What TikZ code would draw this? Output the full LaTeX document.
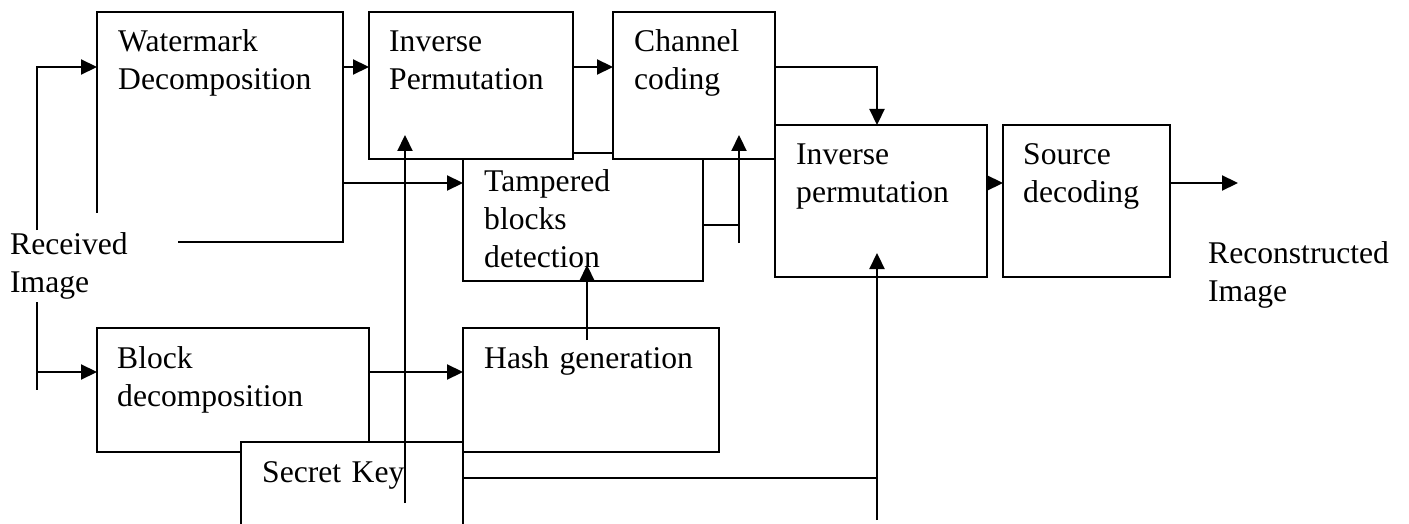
\documentclass[tikz,border=0pt]{standalone}
\usepackage{fontspec}
\setmainfont{Liberation Serif}
\usetikzlibrary{arrows.meta}
\tikzset{
  blkbox/.style={draw, fill=white, line width=2.2pt, inner sep=0pt, outer sep=0pt},
  cover/.style={fill=white, inner sep=0pt, outer sep=0pt},
  txt/.style={font=\fontsize{31.6}{38}\selectfont, align=left, text width=300pt, inner sep=0pt, anchor=base west},
  conn/.style={line width=2.2pt},
  arr/.style={conn, -{Triangle[length=16pt,width=15pt]}}
}
\newcommand{\blk}[6][blkbox]{\node[#1, minimum width={#5-#3}, minimum height={#6-#4}, anchor=north west] (#2) at (#3,#4) {};}
\begin{document}
\begin{tikzpicture}[x=1pt,y=-1pt]
\clip (0,0) rectangle (1409,524);
% boxes (drawing order reproduces the overlaps)
\blk{wm}{97}{12}{343}{242}
\blk[cover]{ricover}{0}{213}{178}{302}
\blk{tb}{463}{153}{703}{281}
\blk{ip}{369}{12}{573}{159}
\blk{cc}{613}{12}{775}{159}
\blk{ipb}{775}{125}{987}{277}
\blk{sd}{1003}{125}{1170}{277}
\blk{bd}{97}{328}{369}{452}
\blk{hg}{463}{328}{719}{452}
\blk{sk}{241}{442}{463}{560}
% texts
\node[txt] (wmt) at (118,52) {Watermark\\Decomposition};
\node[txt] (ipt) at (389,52) {Inverse\\Permutation};
\node[txt] (cct) at (634,52) {Channel\\coding};
\node[txt] (tbt) at (484,192) {Tampered\\blocks\\detection};
\node[txt] (ipbt) at (796,165) {Inverse\\permutation};
\node[txt] (sdt) at (1023,165) {Source\\decoding};
\node[txt] (rit) at (10,254) {Received\\Image};
\node[txt] (bdt) at (117,368) {Block\\decomposition};
\node[txt] (hgt) at (484,368) {Hash generation};
\node[txt] (skt) at (262,482) {Secret Key};
\node[txt] (rct) at (1208,263) {Reconstructed\\Image};
% free ends
\coordinate (rtop) at (37,230);
\coordinate (rbot1) at (37,302);
\coordinate (rbot2) at (37,390);
\coordinate (skup0) at (405,503);
\coordinate (skup1) at (405,135);
\coordinate (tbj) at (739,225);
\coordinate (tbup0) at (739,243);
\coordinate (tbup1) at (739,135);
\coordinate (hgup0) at (587,340);
\coordinate (hgup1) at (587,265);
\coordinate (skr) at (877,478);
\coordinate (ipbup0) at (877,520);
\coordinate (ipbup1) at (877,253);
\coordinate (out) at (1238,183);
% connectors
\draw[arr] (rtop) |- (wm.west |- 0,67);
\draw[conn] (rbot1) -- (rbot2);
\draw[arr] (rbot1 |- 0,372) -- (bd.west |- 0,372);
\draw[arr] (wm.east |- 0,67) -- (ip.west |- 0,67);
\draw[arr] (wm.east |- 0,183) -- (tb.west |- 0,183);
\draw[arr] (ip.east |- 0,67) -- (cc.west |- 0,67);
\draw[arr] (cc.east |- 0,67) -| (ipb.north -| 877,0);
\draw[arr] (skup0) -- (skup1);
\draw[conn] (tb.east |- 0,225) -- (tbj);
\draw[arr] (tbup0) -- (tbup1);
\draw[arr] (hgup0) -- (hgup1);
\draw[arr] (bd.east |- 0,372) -- (hg.west |- 0,372);
\draw[conn] (sk.east |- 0,478) -- (skr);
\draw[arr] (ipbup0) -- (ipbup1);
\draw[arr] (ipb.east |- 0,183) -- (sd.west |- 0,183);
\draw[arr] (sd.east |- 0,183) -- (out);
\end{tikzpicture}
\end{document}
